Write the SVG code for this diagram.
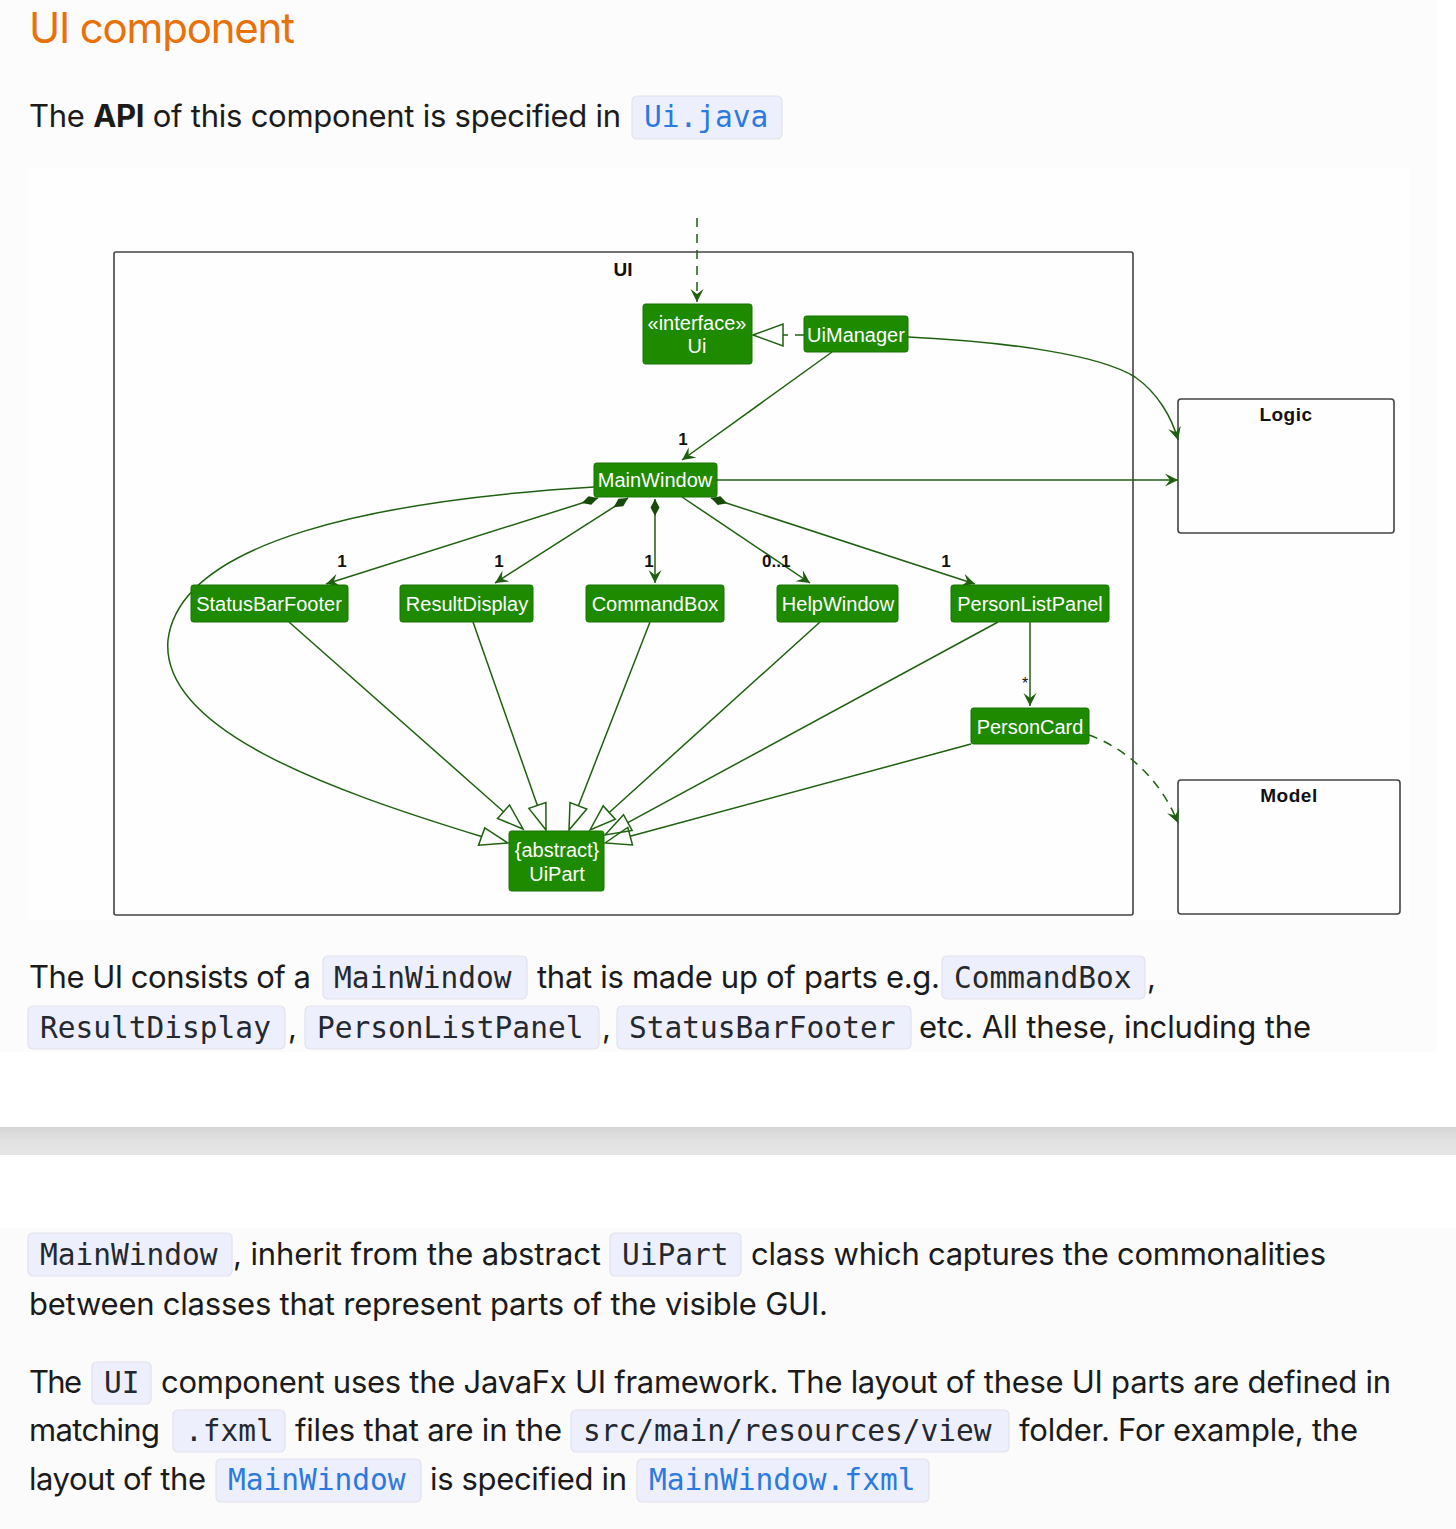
<svg xmlns="http://www.w3.org/2000/svg" width="1456" height="1529" viewBox="0 0 1456 1529">
<defs>
  <linearGradient id="band" x1="0" y1="0" x2="0" y2="1">
    <stop offset="0" stop-color="#d5d5d5"/>
    <stop offset="0.45" stop-color="#e1e1e1"/>
    <stop offset="1" stop-color="#e6e6e6"/>
  </linearGradient>
  <marker id="arr" markerUnits="userSpaceOnUse" viewBox="0 0 14 14" refX="13" refY="7" markerWidth="14" markerHeight="14" orient="auto">
    <path d="M0,0.5 L13,7 L0,13.5 L5,7 Z" fill="#1f5f10"/>
  </marker>
  <marker id="dia" markerUnits="userSpaceOnUse" viewBox="0 0 18 11" refX="0.5" refY="5.5" markerWidth="18" markerHeight="11" orient="auto">
    <path d="M0.5,5.5 L9,1 L17.5,5.5 L9,10 Z" fill="#174a08"/>
  </marker>
</defs>
<style>
  .cls rect { fill: #1e8a00; stroke: #197200; stroke-width: 1; }
  .cls text { font-family: "Liberation Sans", Arial, sans-serif; font-size: 20px; fill: #ffffff; text-anchor: middle; }
  .conn path, .conn line { fill: none; stroke: #1f5f10; stroke-width: 1.5; }
  .conn .dash { stroke-dasharray: 9 7; }
  .conn .tri { fill: none; stroke: #1f5f10; stroke-width: 1.5; }
  .mult { font-family: "Liberation Sans", Arial, sans-serif; font-size: 17px; font-weight: bold; fill: #111111; }
  .pkg rect { fill: none; stroke: #444444; stroke-width: 1.6; }
  .pkg text { font-family: "Liberation Sans", Arial, sans-serif; font-weight: bold; font-size: 19px; fill: #111111; text-anchor: middle; }
  .p { font-family: "Inter", "Liberation Sans", sans-serif; font-size: 31px; fill: #1b1b1b; }
  .c { font-family: "DejaVu Sans Mono", "Liberation Mono", monospace; font-size: 29.5px; fill: #24292f; }
  .lk { fill: #2a7ae2; }
  .cb { fill: #eeeffd; stroke: #e1e2ec; stroke-width: 1.2; }
</style>

<!-- page backgrounds -->
<rect x="0" y="0" width="1456" height="1529" fill="#ffffff"/>
<rect x="0" y="0" width="1437" height="1052" fill="#fcfcfc"/>
<rect x="28" y="167" width="1382" height="754" fill="#fefefe"/>
<rect x="0" y="1127" width="1456" height="28" fill="url(#band)"/>
<rect x="0" y="1228" width="1456" height="301" fill="#fbfbfb"/>

<!-- heading and first paragraph -->
<text x="29" y="43" font-family="Inter, 'Liberation Sans', sans-serif" font-size="42" fill="#e8710a" textLength="266" lengthAdjust="spacing">UI component</text>
<text class="p" x="29" y="127" textLength="592" lengthAdjust="spacing">The <tspan font-weight="bold">API</tspan> of this component is specified in</text>
<rect class="cb" x="632" y="96" width="150" height="43" rx="5"/>
<text class="c lk" x="644" y="127">Ui.java</text>

<!-- packages -->
<g id="pkg-ui" class="pkg">
  <rect x="114" y="252" width="1019" height="663" rx="2"/>
  <text x="623" y="276">UI</text>
</g>
<g id="pkg-logic" class="pkg">
  <rect x="1178" y="399" width="216" height="134" rx="3"/>
  <text x="1286" y="421" letter-spacing="0.5">Logic</text>
</g>
<g id="pkg-model" class="pkg">
  <rect x="1178" y="780" width="222" height="134" rx="3"/>
  <text x="1289" y="802" letter-spacing="0.5">Model</text>
</g>

<!-- connectors -->
<g id="connectors" class="conn">
  <!-- external to Ui -->
  <line class="dash" x1="697" y1="218" x2="697" y2="302" marker-end="url(#arr)"/>
  <!-- UiManager realizes Ui -->
  <line class="dash" x1="804" y1="335" x2="783" y2="335"/>
  <polygon class="tri" points="753,335 783,324 783,346"/>
  <!-- UiManager to Logic -->
  <path d="M908,337 C1010,342 1100,355 1135,377 C1158,393 1172,418 1178,440" marker-end="url(#arr)"/>
  <!-- UiManager to MainWindow -->
  <line x1="832" y1="352" x2="682" y2="460" marker-end="url(#arr)"/>
  <!-- MainWindow to Logic -->
  <line x1="717" y1="480" x2="1178" y2="480" marker-end="url(#arr)"/>
  <!-- compositions -->
  <line x1="598" y1="498" x2="326" y2="584" marker-start="url(#dia)" marker-end="url(#arr)"/>
  <line x1="628" y1="498" x2="495" y2="583" marker-start="url(#dia)" marker-end="url(#arr)"/>
  <line x1="655" y1="499" x2="655" y2="583" marker-start="url(#dia)" marker-end="url(#arr)"/>
  <line x1="682" y1="497" x2="810" y2="583" marker-end="url(#arr)"/>
  <line x1="711" y1="498" x2="975" y2="584" marker-start="url(#dia)" marker-end="url(#arr)"/>
  <!-- PersonListPanel to PersonCard -->
  <line x1="1030" y1="622" x2="1030" y2="706" marker-end="url(#arr)"/>
  <!-- PersonCard to Model -->
  <path class="dash" d="M1089,735 C1125,748 1160,778 1178,823" marker-end="url(#arr)"/>
  <!-- inheritance to UiPart -->
  <path d="M594,487 C380,500 180,540 168,640 C160,730 330,790 481.5,836.5"/>
  <polygon class="tri" points="508,843 478.5,845.2 484.8,827.9"/>
  <line x1="289" y1="622" x2="503.6" y2="811.7"/>
  <polygon class="tri" points="523,829 497.6,818.5 509.5,805"/>
  <line x1="473" y1="622" x2="537.4" y2="805.5"/>
  <polygon class="tri" points="546,830 528.9,808.4 545.9,802.5"/>
  <line x1="650" y1="622" x2="578.4" y2="805.8"/>
  <polygon class="tri" points="569,830 570,802.5 586.8,809"/>
  <line x1="820" y1="622" x2="609.2" y2="812.5"/>
  <polygon class="tri" points="590,830 603.2,805.9 615.3,819.2"/>
  <line x1="998" y1="622" x2="627.8" y2="822.6"/>
  <polygon class="tri" points="605,835 623.5,814.7 632.1,830.5"/>
  <line x1="971" y1="744" x2="630.1" y2="836.2"/>
  <polygon class="tri" points="605,843 627.8,827.5 632.5,844.9"/>
</g>

<!-- multiplicities -->
<g id="labels">
  <text class="mult" x="683" y="445" text-anchor="middle">1</text>
  <text class="mult" x="342" y="567" text-anchor="middle">1</text>
  <text class="mult" x="499" y="567" text-anchor="middle">1</text>
  <text class="mult" x="649" y="567" text-anchor="middle">1</text>
  <text class="mult" x="762" y="567">0..1</text>
  <text class="mult" x="946" y="567" text-anchor="middle">1</text>
  <text x="1025" y="689" font-family="Liberation Sans, Arial, sans-serif" font-size="16" fill="#111" text-anchor="middle">*</text>
</g>

<!-- classes -->
<g id="node-ui" class="cls">
  <rect x="643" y="304" width="109" height="60" rx="2.5"/>
  <text x="697" y="330">«interface»</text>
  <text x="697" y="353">Ui</text>
</g>
<g id="node-uimanager" class="cls">
  <rect x="804" y="316" width="104" height="36" rx="2.5"/>
  <text x="856" y="342">UiManager</text>
</g>
<g id="node-mainwindow" class="cls">
  <rect x="594" y="463" width="123" height="34" rx="2.5"/>
  <text x="655" y="487">MainWindow</text>
</g>
<g id="node-statusbarfooter" class="cls">
  <rect x="191" y="585" width="157" height="37" rx="2.5"/>
  <text x="269" y="611">StatusBarFooter</text>
</g>
<g id="node-resultdisplay" class="cls">
  <rect x="400" y="585" width="133" height="37" rx="2.5"/>
  <text x="467" y="611">ResultDisplay</text>
</g>
<g id="node-commandbox" class="cls">
  <rect x="586" y="585" width="138" height="37" rx="2.5"/>
  <text x="655" y="611">CommandBox</text>
</g>
<g id="node-helpwindow" class="cls">
  <rect x="777" y="585" width="121" height="37" rx="2.5"/>
  <text x="838" y="611">HelpWindow</text>
</g>
<g id="node-personlistpanel" class="cls">
  <rect x="951" y="585" width="158" height="37" rx="2.5"/>
  <text x="1030" y="611">PersonListPanel</text>
</g>
<g id="node-personcard" class="cls">
  <rect x="971" y="708" width="118" height="36" rx="2.5"/>
  <text x="1030" y="734">PersonCard</text>
</g>
<g id="node-uipart" class="cls">
  <rect x="509" y="831" width="95" height="60" rx="2.5"/>
  <text x="557" y="857">{abstract}</text>
  <text x="557" y="881">UiPart</text>
</g>

<!-- paragraph 2 -->
<text class="p" x="29" y="988" textLength="282" lengthAdjust="spacing">The UI consists of a</text>
<rect class="cb" x="323" y="956" width="204" height="43" rx="5"/>
<text class="c" x="334" y="988">MainWindow</text>
<text class="p" x="537" y="988" textLength="403" lengthAdjust="spacing">that is made up of parts e.g.</text>
<rect class="cb" x="942" y="956" width="203" height="43" rx="5"/>
<text class="c" x="954" y="988">CommandBox</text>
<text class="p" x="1147" y="988">,</text>

<rect class="cb" x="28" y="1006" width="257" height="43" rx="5"/>
<text class="c" x="40" y="1038">ResultDisplay</text>
<text class="p" x="288" y="1038">,</text>
<rect class="cb" x="305" y="1006" width="294" height="43" rx="5"/>
<text class="c" x="317" y="1038">PersonListPanel</text>
<text class="p" x="602" y="1038">,</text>
<rect class="cb" x="617" y="1006" width="294" height="43" rx="5"/>
<text class="c" x="629" y="1038">StatusBarFooter</text>
<text class="p" x="919" y="1038" textLength="392" lengthAdjust="spacing">etc. All these, including the</text>

<!-- paragraph 3 -->
<rect class="cb" x="28" y="1233" width="204" height="43" rx="5"/>
<text class="c" x="40" y="1265">MainWindow</text>
<text class="p" x="233" y="1265" textLength="368" lengthAdjust="spacing">, inherit from the abstract</text>
<rect class="cb" x="610" y="1233" width="131" height="43" rx="5"/>
<text class="c" x="622" y="1265">UiPart</text>
<text class="p" x="751" y="1265" textLength="575" lengthAdjust="spacing">class which captures the commonalities</text>
<text class="p" x="29" y="1315" textLength="799" lengthAdjust="spacing">between classes that represent parts of the visible GUI.</text>

<!-- paragraph 4 -->
<text class="p" x="29" y="1393" textLength="53" lengthAdjust="spacing">The</text>
<rect class="cb" x="92" y="1362" width="59" height="42" rx="5"/>
<text class="c" x="104" y="1393">UI</text>
<text class="p" x="161" y="1393" textLength="1230" lengthAdjust="spacing">component uses the JavaFx UI framework. The layout of these UI parts are defined in</text>

<text class="p" x="29" y="1441" textLength="131" lengthAdjust="spacing">matching</text>
<rect class="cb" x="173" y="1410" width="112" height="42" rx="5"/>
<text class="c" x="185" y="1441">.fxml</text>
<text class="p" x="295" y="1441" textLength="267" lengthAdjust="spacing">files that are in the</text>
<rect class="cb" x="571" y="1410" width="438" height="42" rx="5"/>
<text class="c" x="583" y="1441">src/main/resources/view</text>
<text class="p" x="1019" y="1441" textLength="339" lengthAdjust="spacing">folder. For example, the</text>

<text class="p" x="29" y="1490" textLength="177" lengthAdjust="spacing">layout of the</text>
<rect class="cb" x="216" y="1459" width="205" height="43" rx="5"/>
<text class="c lk" x="228" y="1490">MainWindow</text>
<text class="p" x="430" y="1490" textLength="197" lengthAdjust="spacing">is specified in</text>
<rect class="cb" x="637" y="1459" width="292" height="43" rx="5"/>
<text class="c lk" x="649" y="1490">MainWindow.fxml</text>
</svg>
